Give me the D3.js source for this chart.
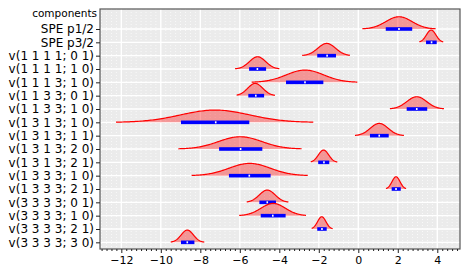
<!DOCTYPE html>
<html><head><meta charset="utf-8">
<script src="https://cdn.jsdelivr.net/npm/d3@7"></script>
<style>body{margin:0;background:#fff}svg{display:block}text{font-family:"DejaVu Sans",sans-serif;fill:#000}</style>
</head><body><svg id="c" width="469" height="274"></svg>
<script>
const categories = ["SPE p1/2","SPE p3/2","v(1 1 1 1; 0 1)","v(1 1 1 1; 1 0)","v(1 1 1 3; 1 0)","v(1 1 3 3; 0 1)","v(1 1 3 3; 1 0)","v(1 3 1 3; 1 0)","v(1 3 1 3; 1 1)","v(1 3 1 3; 2 0)","v(1 3 1 3; 2 1)","v(1 3 3 3; 1 0)","v(1 3 3 3; 2 1)","v(3 3 3 3; 0 1)","v(3 3 3 3; 1 0)","v(3 3 3 3; 2 1)","v(3 3 3 3; 3 0)"];
const peaks   = [2.06, 3.69, -1.60, -5.10, -2.70, -5.22, 2.96, -7.25, 1.06, -5.98, -1.76, -5.50, 1.91, -4.61, -4.31, -1.85, -8.66];
const sds     = [0.66, 0.24, 0.45, 0.41, 0.95, 0.38, 0.50, 1.75, 0.45, 1.10, 0.26, 1.05, 0.20, 0.40, 0.62, 0.21, 0.31];
const curveLo = [0.20, 3.09, -2.84, -6.24, -5.40, -6.16, 1.60, -12.27, -0.17, -9.11, -2.41, -8.44, 1.40, -5.65, -6.03, -2.36, -9.50];
const curveHi = [3.92, 4.30, -0.42, -4.00, -0.05, -4.22, 4.34, -2.28, 2.31, -2.87, -1.06, -2.56, 2.42, -3.54, -2.65, -1.30, -7.80];
const ciLo    = [1.39, 3.43, -2.08, -5.53, -3.66, -5.57, 2.45, -8.98, 0.59, -7.05, -2.03, -6.55, 1.69, -5.01, -4.94, -2.08, -8.98];
const ciHi    = [2.73, 3.97, -1.13, -4.67, -1.77, -4.77, 3.49, -5.52, 1.54, -4.86, -1.47, -4.44, 2.15, -4.17, -3.68, -1.60, -8.30];
const medians = [2.06, 3.71, -1.58, -5.11, -2.70, -5.19, 2.96, -7.22, 1.06, -5.96, -1.74, -5.52, 1.91, -4.61, -4.33, -1.84, -8.66];
const xTicks  = [-12, -10, -8, -6, -4, -2, 0, 2, 4];
const yTitle  = "components";

const svg = d3.select("#c");
const L = 100, R = 460, T = 9, B = 249;
const x = d3.scaleLinear().domain([-13.08, 5.15]).range([L, R]);
const y = d3.scaleLinear().domain([-1.5, categories.length - 0.5]).range([T, B]);
const rowH = y(1) - y(0);

// background
svg.append("rect").attr("x", L).attr("y", T).attr("width", R - L).attr("height", B - T).attr("fill", "#ebebeb");
const g = svg.append("g");
// minor grid (dotted)
const minor = d3.range(-13, 5.2, 0.25).filter(v => Math.abs(v / 2 - Math.round(v / 2)) > 1e-6);
g.selectAll(".mg").data(minor).join("line")
  .attr("x1", d => x(d)).attr("x2", d => x(d)).attr("y1", T).attr("y2", B)
  .attr("stroke", "#fff").attr("stroke-width", 0.8).attr("stroke-dasharray", "1,2").attr("opacity", 0.9);
// major grid
g.selectAll(".vx").data(xTicks).join("line")
  .attr("x1", d => x(d)).attr("x2", d => x(d)).attr("y1", T).attr("y2", B)
  .attr("stroke", "#fff").attr("stroke-width", 1.4);
g.selectAll(".hy").data(categories).join("line")
  .attr("x1", L).attr("x2", R).attr("y1", (d, i) => y(i)).attr("y2", (d, i) => y(i))
  .attr("stroke", "#fff").attr("stroke-width", 1.4);

// densities
const hScale = 0.92 * rowH;
categories.forEach((c, i) => {
  const pts = d3.range(0, 121).map(k => {
    const v = curveLo[i] + (curveHi[i] - curveLo[i]) * k / 120;
    const z = (v - peaks[i]) / sds[i];
    return [v, Math.exp(-0.5 * z * z)];
  });
  const area = d3.area().x(d => x(d[0])).y0(y(i)).y1(d => y(i) - d[1] * hScale);
  const line = d3.line().x(d => x(d[0])).y(d => y(i) - d[1] * hScale);
  g.append("path").attr("d", area(pts)).attr("fill", "#ff0000").attr("fill-opacity", 0.36);
  g.append("path").attr("d", line(pts)).attr("fill", "none").attr("stroke", "#ff0000").attr("stroke-width", 1.2);
  g.append("rect").attr("x", x(ciLo[i])).attr("y", y(i) - 1.8).attr("width", x(ciHi[i]) - x(ciLo[i])).attr("height", 3.6).attr("fill", "#0000ff");
  g.append("rect").attr("x", x(medians[i]) - 0.8).attr("y", y(i) - 1).attr("width", 1.6).attr("height", 2).attr("fill", "#fff");
});

// frame
svg.append("rect").attr("x", L).attr("y", T).attr("width", R - L).attr("height", B - T)
  .attr("fill", "none").attr("stroke", "#555").attr("stroke-width", 1.2);

// x axis
const xa = svg.append("g").attr("transform", `translate(0,${B})`);
xa.call(d3.axisBottom(x).tickValues(minor).tickSize(2).tickFormat(""));
xa.call(g2 => g2.select(".domain").remove());
const xb = svg.append("g").attr("transform", `translate(0,${B})`)
  .call(d3.axisBottom(x).tickValues(xTicks).tickSize(4).tickPadding(3).tickFormat(d => d < 0 ? "\u2212" + Math.abs(d) : String(d)));
xb.select(".domain").remove();
xb.selectAll("text").attr("font-size", 11).attr("font-family", "DejaVu Sans");
svg.selectAll(".tick line").attr("stroke", "#222");

// y axis
const ya = svg.append("g").attr("transform", `translate(${L},0)`)
  .call(d3.axisLeft(y).tickValues(d3.range(categories.length)).tickSize(4).tickPadding(2).tickFormat(i => categories[i]));
ya.select(".domain").remove();
ya.selectAll("text").attr("font-size", 12).attr("font-family", "DejaVu Sans");
ya.selectAll(".tick line").attr("stroke", "#222");

svg.append("text").attr("x", L - 3).attr("y", y(-1)).attr("dy", "0.1em").attr("text-anchor", "end")
  .attr("font-size", 10.5).text(yTitle);
</script></body></html>
